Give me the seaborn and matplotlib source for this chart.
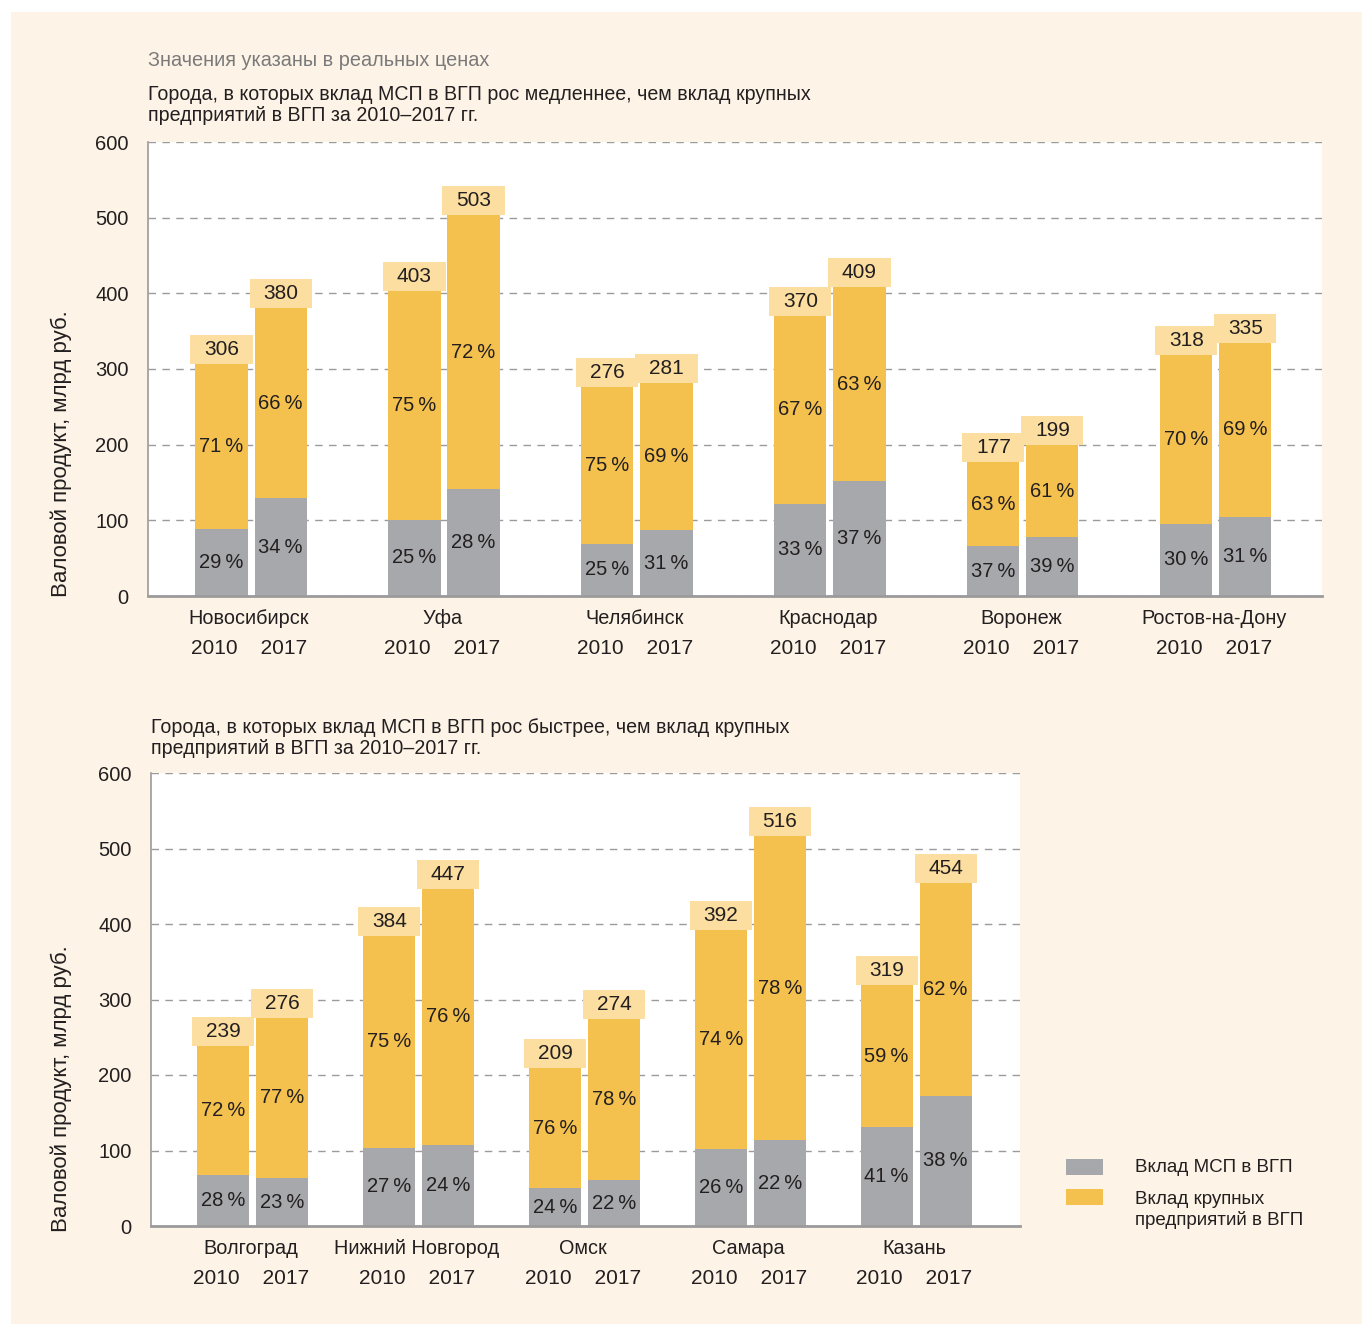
import matplotlib
matplotlib.use("Agg")
import matplotlib.pyplot as plt
from matplotlib.patches import Rectangle
from matplotlib import transforms
import numpy as np
import pandas as pd
import seaborn as sns

# ---- data ----
years = ["2010", "2017"]

top_cities = ["Новосибирск", "Уфа", "Челябинск", "Краснодар", "Воронеж", "Ростов-на-Дону"]
top_total_2010 = [306, 403, 276, 370, 177, 318]
top_total_2017 = [380, 503, 281, 409, 199, 335]
top_sme_pct_2010 = [29, 25, 25, 33, 37, 30]
top_sme_pct_2017 = [34, 28, 31, 37, 39, 31]
top_large_pct_2010 = [71, 75, 75, 67, 63, 70]
top_large_pct_2017 = [66, 72, 69, 63, 61, 69]

bot_cities = ["Волгоград", "Нижний Новгород", "Омск", "Самара", "Казань"]
bot_total_2010 = [239, 384, 209, 392, 319]
bot_total_2017 = [276, 447, 274, 516, 454]
bot_sme_pct_2010 = [28, 27, 24, 26, 41]
bot_sme_pct_2017 = [23, 24, 22, 22, 38]
bot_large_pct_2010 = [72, 75, 76, 74, 59]
bot_large_pct_2017 = [77, 76, 78, 78, 62]

y_ticks = [0, 100, 200, 300, 400, 500, 600]

# ---- style ----
CREAM = "#fdf4e7"
GRAY = "#a7a8ab"
YELLOW = "#f4c14f"
BOX = "#fbdea0"
TEXT = "#231f20"
GRID = "#9b9b9b"

sns.set_theme(style="white")
plt.rcParams["font.family"] = ["Liberation Sans", "DejaVu Sans"]

W, H = 1362, 1324
DPI = 100
fig = plt.figure(figsize=(W / DPI, H / DPI), dpi=DPI, facecolor="white")

# cream panel behind everything
fig.patches.append(Rectangle((11 / W, 0), 1 - 11 / W, 1 - 12 / H,
                             transform=fig.transFigure, facecolor=CREAM,
                             edgecolor="none", zorder=-10))


def fx(px):
    return px / W


def fy(py):
    return 1 - py / H


def make_frame(cities, totals, sme_pcts, large_pcts):
    rows = []
    for yi, yr in enumerate(years):
        for ci, c in enumerate(cities):
            t = totals[yi][ci]
            rows.append({"city": c, "year": yr, "total": t,
                         "sme": t * sme_pcts[yi][ci] / 100.0,
                         "sme_pct": sme_pcts[yi][ci],
                         "large_pct": large_pcts[yi][ci]})
    return pd.DataFrame(rows)


def draw_panel(ax, df, cities, width, gap, xlim):
    ax.set_facecolor("white")
    sns.barplot(data=df, x="city", y="total", hue="year", order=cities,
                hue_order=years, palette=[YELLOW, YELLOW], width=width, gap=gap,
                saturation=1, errorbar=None, legend=False, linewidth=0, ax=ax)
    sns.barplot(data=df, x="city", y="sme", hue="year", order=cities,
                hue_order=years, palette=[GRAY, GRAY], width=width, gap=gap,
                saturation=1, errorbar=None, legend=False, linewidth=0, ax=ax)
    ax.set_xlim(*xlim)
    ax.set_ylim(0, 600)
    ax.set_yticks(y_ticks)
    ax.set_yticklabels([str(v) for v in y_ticks], fontsize=14.5, color=TEXT)
    ax.tick_params(axis="y", length=0, pad=14)
    ax.set_xticks([])
    ax.set_xlabel("")
    ax.set_ylabel("")
    ax.set_axisbelow(True)
    ax.yaxis.grid(True, color=GRID, linewidth=1.0, linestyle=(0, (5.4, 4.6)))
    ax.xaxis.grid(False)
    for s in ("top", "right"):
        ax.spines[s].set_visible(False)
    ax.spines["left"].set_color(GRID)
    ax.spines["left"].set_linewidth(1.2)
    ax.spines["bottom"].set_color(GRID)
    ax.spines["bottom"].set_linewidth(2.0)

    # pixel scale of the data axes
    bb = ax.get_position()
    ax_w_px = bb.width * W
    ax_h_px = bb.height * H
    x_per_px = (xlim[1] - xlim[0]) / ax_w_px
    y_per_px = 600.0 / ax_h_px

    for yi, yr in enumerate(years):
        tot_bars = sorted(ax.containers[yi].patches, key=lambda p: p.get_x())
        sme_bars = sorted(ax.containers[2 + yi].patches, key=lambda p: p.get_x())
        sub = df[df["year"] == yr].set_index("city").loc[cities]
        for ci, c in enumerate(cities):
            pt, ps = tot_bars[ci], sme_bars[ci]
            xc = pt.get_x() + pt.get_width() / 2
            top = pt.get_height()
            sme_h = ps.get_height()
            row = sub.loc[c]
            # value box above the bar
            bw = pt.get_width() + 10 * x_per_px
            bh = 29 * y_per_px
            ax.add_patch(Rectangle((xc - bw / 2, top), bw, bh, facecolor=BOX,
                                   edgecolor="none", zorder=3, clip_on=False))
            ax.text(xc, top + bh / 2, f"{int(row['total'])}", ha="center",
                    va="center", fontsize=15, color=TEXT, zorder=4)
            # share labels
            ax.text(xc, sme_h / 2, f"{int(row['sme_pct'])}\u2009%", ha="center",
                    va="center", fontsize=14.5, color=TEXT, zorder=4)
            ax.text(xc, (sme_h + top) / 2, f"{int(row['large_pct'])}\u2009%",
                    ha="center", va="center", fontsize=14.5, color=TEXT, zorder=4)

    trans = transforms.blended_transform_factory(ax.transData, ax.transAxes)
    for ci, c in enumerate(cities):
        ax.text(ci - 0.01, -23 / ax_h_px, c, transform=trans, ha="center",
                va="center", fontsize=14.3, color=TEXT)
        ax.text(ci - 0.01, -53 / ax_h_px, "2010    2017", transform=trans,
                ha="center", va="center", fontsize=15, color=TEXT)


# ---- top panel ----
ax1 = fig.add_axes([fx(148), fy(596), fx(1322) - fx(148), fy(142) - fy(596)])
df_top = make_frame(top_cities, [top_total_2010, top_total_2017],
                    [top_sme_pct_2010, top_sme_pct_2017],
                    [top_large_pct_2010, top_large_pct_2017])
draw_panel(ax1, df_top, top_cities, width=0.612, gap=0.118, xlim=(-0.534, 5.55))

# ---- bottom panel ----
ax2 = fig.add_axes([fx(151), fy(1226), fx(1020) - fx(151), fy(773) - fy(1226)])
df_bot = make_frame(bot_cities, [bot_total_2010, bot_total_2017],
                    [bot_sme_pct_2010, bot_sme_pct_2017],
                    [bot_large_pct_2010, bot_large_pct_2017])
draw_panel(ax2, df_bot, bot_cities, width=0.712, gap=0.119, xlim=(-0.615, 4.627))

# ---- titles ----
fig.text(fx(148), fy(60), "Значения указаны в реальных ценах", ha="left",
         va="center", fontsize=14.3, color="#7a7a7a")
fig.text(fx(148), fy(105),
         "Города, в которых вклад МСП в ВГП рос медленнее, чем вклад крупных\n"
         "предприятий в ВГП за 2010–2017 гг.", ha="left", va="center",
         fontsize=14.1, color=TEXT, linespacing=1.1)
fig.text(fx(151), fy(738),
         "Города, в которых вклад МСП в ВГП рос быстрее, чем вклад крупных\n"
         "предприятий в ВГП за 2010–2017 гг.", ha="left", va="center",
         fontsize=14.1, color=TEXT, linespacing=1.1)

# ---- y-axis titles ----
for y_bottom in (597, 1232):
    fig.text(fx(61), fy(y_bottom), "Валовой продукт, млрд руб.", rotation=90,
             ha="center", va="bottom", fontsize=16, color=TEXT)

# ---- legend ----
fig.patches.append(Rectangle((fx(1066), fy(1175)), fx(37), 16 / H,
                             transform=fig.transFigure, facecolor=GRAY,
                             edgecolor="none"))
fig.patches.append(Rectangle((fx(1066), fy(1205)), fx(37), 16 / H,
                             transform=fig.transFigure, facecolor=YELLOW,
                             edgecolor="none"))
fig.text(fx(1135), fy(1168), "Вклад МСП в ВГП", ha="left", va="center",
         fontsize=13.5, color=TEXT)
fig.text(fx(1135), fy(1210), "Вклад крупных\nпредприятий в ВГП", ha="left",
         va="center", fontsize=13.5, color=TEXT, linespacing=1.15)

fig.savefig("out.png", dpi=DPI, facecolor="white")
